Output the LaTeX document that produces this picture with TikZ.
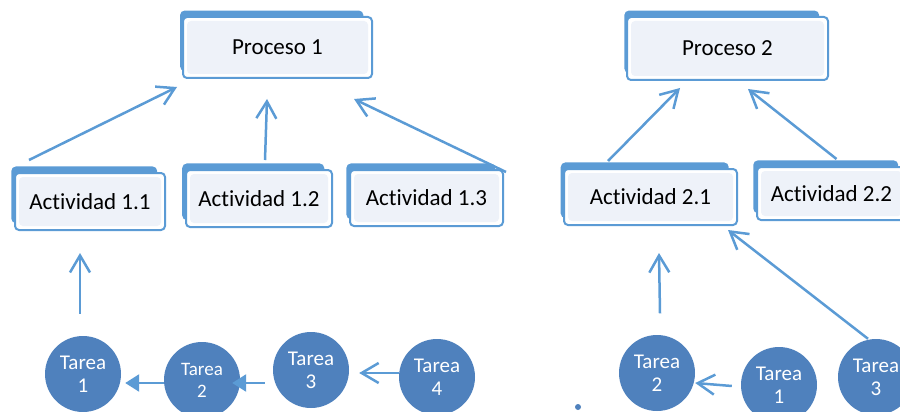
\documentclass[tikz,border=0pt]{standalone}
\usepackage{fontspec}
\setmainfont{Carlito}[Ligatures=NoCommon]
\usetikzlibrary{arrows.meta,shadows}
\definecolor{boxblue}{RGB}{91,155,213}
\definecolor{boxfill}{RGB}{238,242,249}
\definecolor{taskblue}{RGB}{79,129,189}
\definecolor{linkblue}{RGB}{91,155,213}

\begin{document}
\begin{tikzpicture}[x=1pt, y=-1pt, >={Straight Barb[length=17pt,width=20pt]},
    procbox/.style={draw=boxblue, line width=2pt, fill=white, rounded corners=4pt,
      inner sep=0pt, font=\fontsize{23}{26}\selectfont,
      copy shadow={shadow scale=0.96, shadow xshift=-6pt, shadow yshift=7pt,
        draw=boxblue, fill=boxblue},
      path picture={\fill[boxfill] ([shift={(4pt,4pt)}]path picture bounding box.south west)
        rectangle ([shift={(-4pt,-4pt)}]path picture bounding box.north east);}},
    taskball/.style={circle, fill=taskblue, text=white, minimum size=76pt, inner sep=0pt,
      align=center, font=\fontsize{21}{23}\selectfont},
    arr/.style={->, linkblue, line width=2.5pt},
    arrfill/.style={-{Triangle[length=14pt,width=17pt]}, linkblue, line width=2.5pt}]
    \useasboundingbox (0,0) rectangle (900,412);
    % --- procesos ---
    \node[procbox, minimum width=189pt, minimum height=61pt] (p1) at (277.5,47.5) {Proceso 1};
    \node[procbox, minimum width=201pt, minimum height=63pt] (p2) at (727.5,48.5) {Proceso 2};
    % --- actividades ---
    \node[procbox, minimum width=150pt, minimum height=57pt] (a11) at (90,201.5) {Actividad 1.1};
    \node[procbox, minimum width=146pt, minimum height=57pt] (a12) at (259,198.5) {Actividad 1.2};
    \node[procbox, minimum width=153pt, minimum height=56pt] (a13) at (426.5,198) {Actividad 1.3};
    \node[procbox, minimum width=173pt, minimum height=56pt] (a21) at (650.5,197) {Actividad 2.1};
    \node[procbox, minimum width=149pt, minimum height=53pt] (a22) at (831.5,193.5) {Actividad 2.2};
    % --- tareas ---
    \node[taskball] (t1) at (83,374) {Tarea\\1};
    \node[taskball, font=\fontsize{19}{22}\selectfont] (t2) at (202,380) {Tarea\\2};
    \node[taskball] (t3) at (311,370) {Tarea\\3};
    \node[taskball] (t4) at (437,377) {Tarea\\4};
    \node[taskball] (t2b) at (657,373) {Tarea\\2};
    \node[taskball] (t1b) at (779,385) {Tarea\\1};
    \node[taskball] (t3b) at (876,377) {Tarea\\3};
    % --- flechas hacia los procesos ---
    \draw[arr] ([xshift=15pt,yshift=12pt]a11.north west) -- ([xshift=-5pt,yshift=-8pt]p1.south west);
    \draw[arr] ([xshift=6pt,yshift=9pt]a12.north) -- ([xshift=-10.5pt,yshift=-20pt]p1.south);
    \draw[arr] ([xshift=2pt,yshift=-3pt]a13.north east) -- ([xshift=-19pt,yshift=-20pt]p1.south east);
    \draw[arr] ([xshift=-42.5pt,yshift=7pt]a21.north) -- ([xshift=-47.5pt,yshift=-7pt]p2.south);
    \draw[arr] ([xshift=5pt,yshift=7pt]a22.north) -- ([xshift=20.5pt,yshift=-8pt]p2.south);
    % --- flechas hacia las actividades ---
    \draw[arr] ([xshift=-3pt,yshift=22pt]t1.north) -- ([xshift=-10pt,yshift=-22pt]a11.south);
    \draw[arr] ([xshift=3pt,yshift=21.5pt]t2b.north) -- ([xshift=8.5pt,yshift=-27pt]a21.south);
    \draw[arr] ([xshift=-8pt]t3b.north) -- ([xshift=-10pt,yshift=-4pt]a21.south east);
    % --- flechas entre tareas ---
    \draw[arrfill] ([yshift=-3pt]t2.west) -- ([xshift=4pt,yshift=-9pt]t1.east);
    \draw[arrfill] ([xshift=-8pt,yshift=-13pt]t3.west) -- ([xshift=-8pt,yshift=-3pt]t2.east);
    \draw[arr] ([yshift=4pt]t4.west) -- ([xshift=10pt,yshift=-3pt]t3.east);
    \draw[arr] ([xshift=-9pt,yshift=-1pt]t1b.west) -- ([yshift=-10pt]t2b.east);
    % --- punto suelto ---
    \fill[taskblue] (578,407) circle (3pt);
\end{tikzpicture}
\end{document}
